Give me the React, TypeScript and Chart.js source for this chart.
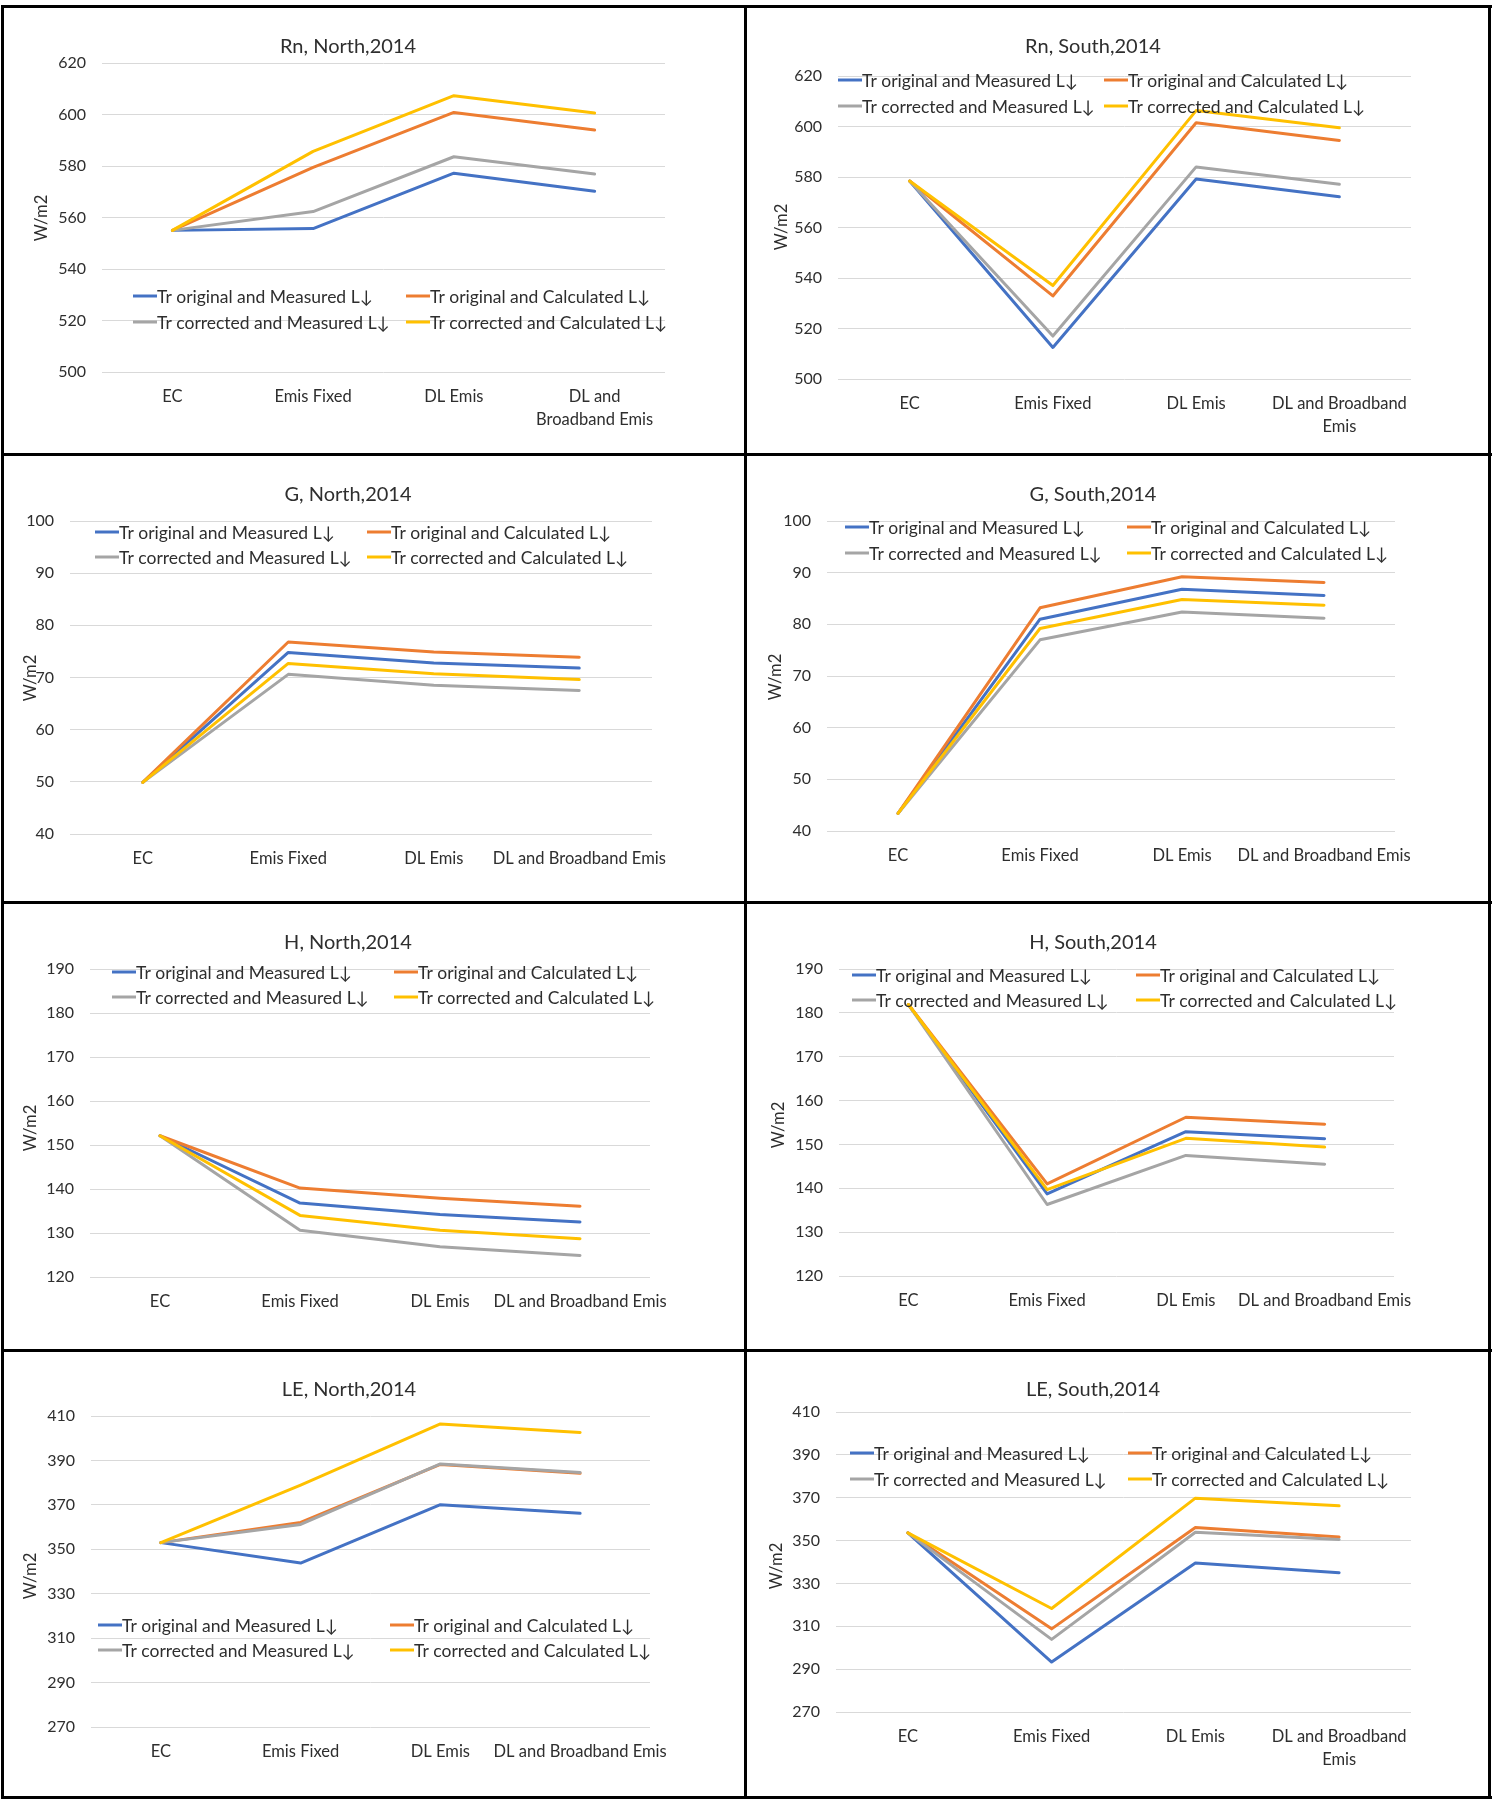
import React, { useEffect, useRef } from 'react';
import { Chart, registerables } from 'chart.js';

Chart.register(...registerables);

// ---------- categories / labels ----------
const catsWrapA: (string | string[])[] = ['EC', 'Emis Fixed', 'DL Emis', ['DL and', 'Broadband Emis']];
const catsWrapB: (string | string[])[] = ['EC', 'Emis Fixed', 'DL Emis', ['DL and Broadband', 'Emis']];
const catsFlat: string[] = ['EC', 'Emis Fixed', 'DL Emis', 'DL and Broadband Emis'];

const seriesNames = [
  'Tr original and Measured L↓',
  'Tr original and Calculated L↓',
  'Tr corrected and Measured L↓',
  'Tr corrected and Calculated L↓',
];
const seriesColors = ['#4472C4', '#ED7D31', '#A5A5A5', '#FFC000'];
const yAxisTitle = 'W/m2';

// ---------- data (W/m2) ----------
const rnNorthOrigMeas = [555, 555.7, 577.2, 570.2];
const rnNorthOrigCalc = [555, 579.5, 600.8, 594];
const rnNorthCorrMeas = [555, 562.3, 583.6, 576.9];
const rnNorthCorrCalc = [555, 585.7, 607.3, 600.6];

const rnSouthOrigMeas = [578.4, 512.5, 579.2, 572.2];
const rnSouthOrigCalc = [578.4, 532.9, 601.5, 594.5];
const rnSouthCorrMeas = [578.4, 517, 584, 577.1];
const rnSouthCorrCalc = [578.4, 537, 606.3, 599.5];

const gNorthOrigMeas = [49.9, 74.8, 72.8, 71.8];
const gNorthOrigCalc = [49.9, 76.8, 74.9, 73.9];
const gNorthCorrMeas = [49.9, 70.6, 68.5, 67.5];
const gNorthCorrCalc = [49.9, 72.7, 70.7, 69.6];

const gSouthOrigMeas = [43.4, 81, 86.8, 85.6];
const gSouthOrigCalc = [43.4, 83.2, 89.2, 88.1];
const gSouthCorrMeas = [43.4, 77, 82.4, 81.2];
const gSouthCorrCalc = [43.4, 79.2, 84.8, 83.7];

const hNorthOrigMeas = [152.1, 136.8, 134.2, 132.5];
const hNorthOrigCalc = [152.1, 140.2, 137.9, 136.1];
const hNorthCorrMeas = [152.1, 130.6, 126.9, 124.9];
const hNorthCorrCalc = [152.1, 134, 130.6, 128.7];

const hSouthOrigMeas = [181.9, 138.7, 152.9, 151.3];
const hSouthOrigCalc = [181.9, 141, 156.2, 154.6];
const hSouthCorrMeas = [181.9, 136.3, 147.5, 145.5];
const hSouthCorrCalc = [181.9, 139.7, 151.4, 149.4];

const leNorthOrigMeas = [353, 343.8, 370.1, 366.2];
const leNorthOrigCalc = [353, 362.1, 388.2, 384.2];
const leNorthCorrMeas = [353, 361.2, 388.4, 384.6];
const leNorthCorrCalc = [353, 378.9, 406.4, 402.6];

const leSouthOrigMeas = [353.6, 293.3, 339.5, 335];
const leSouthOrigCalc = [353.6, 308.8, 356.1, 351.7];
const leSouthCorrMeas = [353.6, 303.9, 353.9, 350.5];
const leSouthCorrCalc = [353.6, 318.3, 369.8, 366.2];

// ---------- style ----------
const FONT = 'Lato, "Open Sans", "DejaVu Sans", sans-serif';
const TEXT_COLOR = '#2e2e2e';
const GRID_COLOR = '#D9D9D9';
const TICK_SIZE = 16;
const LABEL_SIZE = 16.5;
const LEGEND_SIZE = 17.5;
const TITLE_SIZE = 20;
const X_AXIS_H = 60;

type PanelSpec = {
  title: string;
  cats: (string | string[])[];
  series: number[][];
  min: number;
  max: number;
  step: number;
  // layout (canvas-relative)
  box: [number, number, number, number]; // x, y, w, h on page
  area: [number, number, number, number]; // left, right, top, bottom
  titlePos: [number, number];
  yTitlePos: [number, number];
  legendCols: [number, number];
  legendRows: [number, number];
};

const COL_A = 4, COL_B = 747, W_A = 740, W_B = 741;
const ROW1 = 8, ROW2 = 456, ROW3 = 904, ROW4 = 1352, H_R = 445;

const panels: PanelSpec[] = [
  {
    title: 'Rn, North,2014', cats: catsWrapA,
    series: [rnNorthOrigMeas, rnNorthOrigCalc, rnNorthCorrMeas, rnNorthCorrCalc],
    min: 500, max: 620, step: 20,
    box: [COL_A, ROW1, W_A, H_R], area: [98, 661, 55, 364],
    titlePos: [344, 39], yTitlePos: [38, 210], legendCols: [129, 402], legendRows: [288, 314],
  },
  {
    title: 'Rn, South,2014', cats: catsWrapB,
    series: [rnSouthOrigMeas, rnSouthOrigCalc, rnSouthCorrMeas, rnSouthCorrCalc],
    min: 500, max: 620, step: 20,
    box: [COL_B, ROW1, W_B, H_R], area: [91, 664, 68, 371],
    titlePos: [346, 39], yTitlePos: [35, 219], legendCols: [91, 357], legendRows: [72, 98],
  },
  {
    title: 'G, North,2014', cats: catsFlat,
    series: [gNorthOrigMeas, gNorthOrigCalc, gNorthCorrMeas, gNorthCorrCalc],
    min: 40, max: 100, step: 10,
    box: [COL_A, ROW2, W_A, H_R], area: [66, 648, 65, 378],
    titlePos: [344, 39], yTitlePos: [27, 222], legendCols: [91, 363], legendRows: [76, 101],
  },
  {
    title: 'G, South,2014', cats: catsFlat,
    series: [gSouthOrigMeas, gSouthOrigCalc, gSouthCorrMeas, gSouthCorrCalc],
    min: 40, max: 100, step: 10,
    box: [COL_B, ROW2, W_B, H_R], area: [80, 648, 65, 375],
    titlePos: [346, 39], yTitlePos: [29, 221], legendCols: [98, 380], legendRows: [71, 97],
  },
  {
    title: 'H, North,2014', cats: catsFlat,
    series: [hNorthOrigMeas, hNorthOrigCalc, hNorthCorrMeas, hNorthCorrCalc],
    min: 120, max: 190, step: 10,
    box: [COL_A, ROW3, W_A, H_R], area: [86, 646, 65, 373],
    titlePos: [344, 39], yTitlePos: [27, 224], legendCols: [108, 390], legendRows: [68, 93],
  },
  {
    title: 'H, South,2014', cats: catsFlat,
    series: [hSouthOrigMeas, hSouthOrigCalc, hSouthCorrMeas, hSouthCorrCalc],
    min: 120, max: 190, step: 10,
    box: [COL_B, ROW3, W_B, H_R], area: [92, 647, 65, 372],
    titlePos: [346, 39], yTitlePos: [32, 221], legendCols: [105, 389], legendRows: [71, 96],
  },
  {
    title: 'LE, North,2014', cats: catsFlat,
    series: [leNorthOrigMeas, leNorthOrigCalc, leNorthCorrMeas, leNorthCorrCalc],
    min: 270, max: 410, step: 20,
    box: [COL_A, ROW4, W_A, 444], area: [87, 646, 64, 375],
    titlePos: [345, 38], yTitlePos: [27, 224], legendCols: [94, 386], legendRows: [273, 298],
  },
  {
    title: 'LE, South,2014', cats: catsWrapB,
    series: [leSouthOrigMeas, leSouthOrigCalc, leSouthCorrMeas, leSouthCorrCalc],
    min: 270, max: 410, step: 20,
    box: [COL_B, ROW4, W_B, 444], area: [89, 664, 60, 360],
    titlePos: [346, 38], yTitlePos: [30, 214], legendCols: [103, 381], legendRows: [101, 127],
  },
];

const decorPlugin = {
  id: 'panelDecor',
  afterDraw(chart: any, _args: any, opts: any) {
    const ctx: CanvasRenderingContext2D = chart.ctx;
    ctx.save();
    ctx.fillStyle = TEXT_COLOR;
    ctx.textBaseline = 'middle';
    // title
    ctx.font = `${TITLE_SIZE}px ${FONT}`;
    ctx.textAlign = 'center';
    ctx.fillText(opts.title, opts.titlePos[0], opts.titlePos[1]);
    // y axis title
    ctx.save();
    ctx.translate(opts.yTitlePos[0], opts.yTitlePos[1]);
    ctx.rotate(-Math.PI / 2);
    ctx.font = `${LABEL_SIZE}px ${FONT}`;
    ctx.fillText(yAxisTitle, 0, 0);
    ctx.restore();
    // legend
    ctx.font = `${LEGEND_SIZE}px ${FONT}`;
    ctx.textAlign = 'left';
    chart.data.datasets.forEach((ds: any, i: number) => {
      const x = opts.legendCols[i % 2];
      const y = opts.legendRows[Math.floor(i / 2)];
      ctx.strokeStyle = ds.borderColor;
      ctx.lineWidth = 3;
      ctx.lineCap = 'butt';
      ctx.beginPath();
      ctx.moveTo(x, y);
      ctx.lineTo(x + 24, y);
      ctx.stroke();
      ctx.fillStyle = TEXT_COLOR;
      ctx.fillText(ds.label, x + 24, y + 1);
    });
    ctx.restore();
  },
};

function Panel({ spec }: { spec: PanelSpec }) {
  const ref = useRef<HTMLCanvasElement | null>(null);
  useEffect(() => {
    if (!ref.current) return;
    const [, , w, h] = spec.box;
    const [l, r, t, b] = spec.area;
    const chart = new Chart(ref.current, {
      type: 'line',
      data: {
        labels: spec.cats as any,
        datasets: spec.series.map((vals, i) => ({
          label: seriesNames[i],
          data: vals,
          borderColor: seriesColors[i],
          backgroundColor: seriesColors[i],
          borderWidth: 3,
          pointRadius: 0,
          pointHoverRadius: 0,
          tension: 0,
          fill: false,
          borderJoinStyle: 'round' as const,
          borderCapStyle: 'round' as const,
          order: 3 - i,
        })),
      },
      options: {
        responsive: false,
        animation: false,
        events: [],
        layout: { padding: { left: 0, right: w - r, top: t, bottom: h - b - X_AXIS_H } },
        plugins: {
          legend: { display: false },
          title: { display: false },
          tooltip: { enabled: false },
          panelDecor: {
            title: spec.title,
            titlePos: spec.titlePos,
            yTitlePos: spec.yTitlePos,
            legendCols: spec.legendCols,
            legendRows: spec.legendRows,
          },
        } as any,
        scales: {
          x: {
            type: 'category',
            offset: true,
            grid: { display: false },
            border: { display: false },
            ticks: {
              autoSkip: false,
              maxRotation: 0,
              minRotation: 0,
              padding: 6,
              color: TEXT_COLOR,
              font: { family: FONT, size: LABEL_SIZE, lineHeight: 1.35 },
            },
            afterFit: (scale: any) => { scale.height = X_AXIS_H; },
          },
          y: {
            min: spec.min,
            max: spec.max,
            grid: { color: GRID_COLOR, lineWidth: 1, drawTicks: false },
            border: { display: false },
            ticks: {
              stepSize: spec.step,
              padding: 16,
              color: TEXT_COLOR,
              font: { family: FONT, size: TICK_SIZE },
            },
            afterFit: (scale: any) => { scale.width = l; },
          },
        },
      },
      plugins: [decorPlugin as any],
    });
    return () => chart.destroy();
  }, [spec]);
  const [x, y, w, h] = spec.box;
  return (
    <canvas
      ref={ref}
      width={w}
      height={h}
      style={{ position: 'absolute', left: x, top: y, width: w, height: h }}
    />
  );
}

const frameLines: [number, number, number, number][] = [
  [1, 5, 1491, 3],     // top
  [1, 1796, 1491, 3],  // bottom
  [1, 5, 3, 1794],     // left
  [1488, 5, 3, 1794],  // right
  [744, 5, 3, 1794],   // middle vertical
  [1, 453, 1491, 3],
  [1, 901, 1491, 3],
  [1, 1349, 1491, 3],
];

export default function App() {
  return (
    <div style={{ position: 'absolute', left: 0, top: 0, width: 1492, height: 1800, background: '#fff' }}>
      {panels.map((p, i) => <Panel key={i} spec={p} />)}
      {frameLines.map(([x, y, w, h], i) => (
        <div key={'f' + i} style={{ position: 'absolute', left: x, top: y, width: w, height: h, background: '#000' }} />
      ))}
    </div>
  );
}
